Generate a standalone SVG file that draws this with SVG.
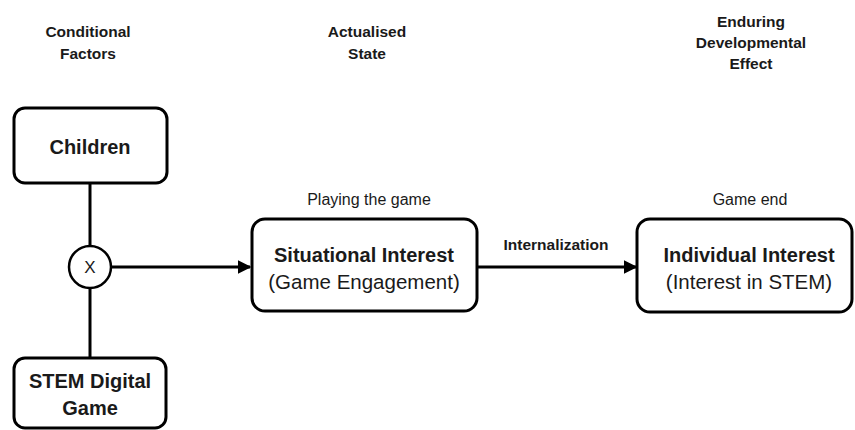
<svg xmlns="http://www.w3.org/2000/svg" width="855" height="430" viewBox="0 0 855 430">
<style>
text{font-family:"Liberation Sans",Arial,sans-serif;fill:#1a1a1a;text-anchor:middle}
.h{font-size:15.5px;font-weight:bold}
.lab{font-size:16px}
.b{font-size:20px;font-weight:bold}
.r{font-size:20.5px}
.box{fill:#fff;stroke:#000;stroke-width:3}
.ln{stroke:#000;stroke-width:3;fill:none}
</style>
<defs>
<marker id="ah" viewBox="0 0 10 10" refX="9" refY="5" markerWidth="4.5" markerHeight="4.5" markerUnits="strokeWidth" orient="auto">
<path d="M0,0 L10,5 L0,10 z" fill="#000"/>
</marker>
</defs>
<g id="headers">
<text class="h" x="88" y="37">Conditional</text>
<text class="h" x="88" y="59">Factors</text>
<text class="h" x="367" y="37">Actualised</text>
<text class="h" x="367" y="59">State</text>
<text class="h" x="751" y="27">Enduring</text>
<text class="h" x="751" y="48">Developmental</text>
<text class="h" x="751" y="69">Effect</text>
</g>
<g id="connectors">
<line class="ln" x1="90" y1="183" x2="90" y2="246"/>
<line class="ln" x1="90" y1="288" x2="90" y2="358"/>
<line class="ln" x1="111" y1="267" x2="250" y2="267" marker-end="url(#ah)"/>
<line class="ln" x1="477" y1="267" x2="636" y2="267" marker-end="url(#ah)"/>
<text x="556" y="250" style="font-weight:bold;font-size:15.5px">Internalization</text>
</g>
<g id="children">
<rect class="box" x="14" y="108" width="153" height="75" rx="11"/>
<text class="b" x="90" y="154">Children</text>
</g>
<g id="multiply">
<circle cx="90" cy="267" r="21" fill="#fff" stroke="#000" stroke-width="2.5"/>
<text x="90" y="273" style="font-size:17px">X</text>
</g>
<g id="stem-game">
<rect class="box" x="14" y="358" width="152" height="70" rx="11"/>
<text class="b" x="90" y="388">STEM Digital</text>
<text class="b" x="90" y="415">Game</text>
</g>
<g id="situational">
<text class="lab" x="369" y="205">Playing the game</text>
<rect class="box" x="252" y="219" width="225" height="92" rx="13"/>
<text class="b" x="364" y="262">Situational Interest</text>
<text class="r" x="364" y="289">(Game Engagement)</text>
</g>
<g id="individual">
<text class="lab" x="750" y="205">Game end</text>
<rect class="box" x="637" y="219" width="215" height="93" rx="13"/>
<text class="b" x="749" y="262">Individual Interest</text>
<text class="r" x="749" y="289">(Interest in STEM)</text>
</g>
</svg>
